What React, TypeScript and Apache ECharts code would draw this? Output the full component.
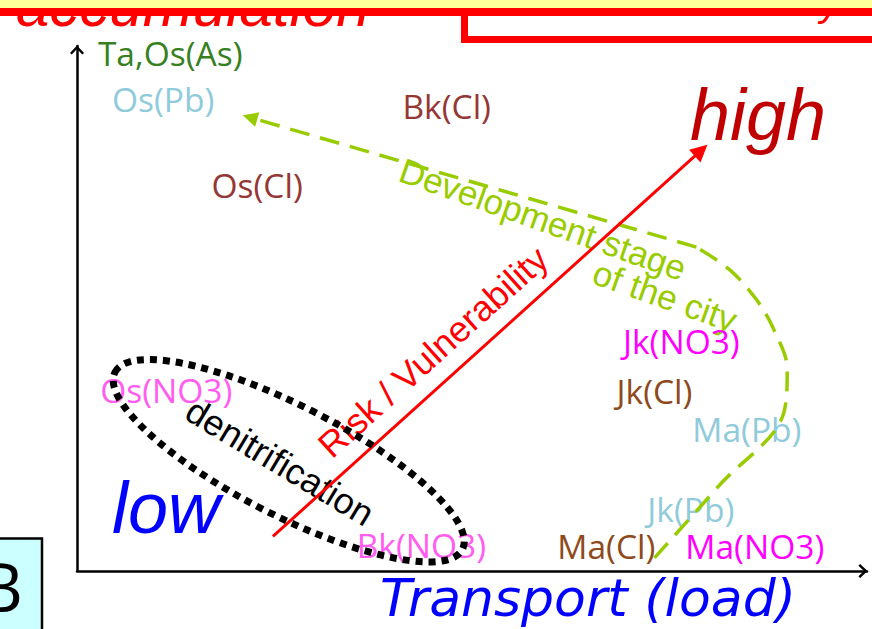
import React, { useEffect, useRef } from 'react';
import * as echarts from 'echarts';

// Samples (site + pollutant) placed by transport (x) and accumulation (y), 0-100 concept scale
const sampleNames = ['Ta,Os(As)', 'Os(Pb)', 'Bk(Cl)', 'Os(Cl)', 'Jk(NO3)', 'Jk(Cl)', 'Ma(Pb)', 'Os(NO3)', 'Jk(Pb)', 'Bk(NO3)', 'Ma(Cl)', 'Ma(NO3)'];
const transportX = [11.8, 10.9, 46.8, 22.8, 76.5, 73.1, 84.8, 11.3, 77.7, 43.6, 67.0, 85.8];
const accumulationY = [98.7, 90.0, 88.6, 73.5, 43.9, 34.3, 27.1, 34.5, 11.9, 4.9, 4.7, 4.7];

// Risk / Vulnerability arrow
const riskArrowStart = [24.8, 6.6];
const riskArrowEnd = [79.0, 80.1];

// Development stage of the city (curved dashed path, then straight arrow)
const devCurveX = [73.1, 81.3, 89.5, 89.9, 88.2, 86.0, 82.6, 78.4];
const devCurveY = [2.5, 16.3, 30.3, 38.4, 46.0, 51.7, 57.4, 61.7];
const devArrowEnd = [21.9, 86.4];

// denitrification group centre
const denitrificationCenter = [26.8, 21.0];

const labelColor: Record<string, string> = {
  'Ta,Os(As)': '#36801F',
  'Os(Pb)': '#8FCBDB',
  'Bk(Cl)': '#953735',
  'Os(Cl)': '#953735',
  'Jk(NO3)': '#FF00FF',
  'Jk(Cl)': '#8E4A1C',
  'Ma(Pb)': '#8FCBDB',
  'Os(NO3)': '#FF5CF0',
  'Jk(Pb)': '#8FCBDB',
  'Bk(NO3)': '#FF5CF0',
  'Ma(Cl)': '#8E4A1C',
  'Ma(NO3)': '#FF00FF',
};

const chevron = 'path://M7,0 L14,7.5 L12.3,9.2 L7,3.6 L1.7,9.2 L0,7.5 Z';
const deg = Math.PI / 180;

function txt(text: string, x: number, y: number, font: string, fill: string, rotation = 0, z = 1, align = 'center', vAlign = 'middle', lineHeight?: number) {
  const style: any = {
    text,
    font,
    fill,
    align,
    textAlign: align,
    verticalAlign: vAlign,
    textVerticalAlign: vAlign,
  };
  if (lineHeight) style.lineHeight = lineHeight;
  return { type: 'text', x, y, rotation, z, silent: true, style };
}

export default function App() {
  const ref = useRef<HTMLDivElement>(null);
  useEffect(() => {
    const chart = echarts.init(ref.current!, null, { renderer: 'svg' });
    const axisCommon = {
      type: 'value',
      min: 0,
      max: 100,
      axisTick: { show: false },
      axisLabel: { show: false },
      splitLine: { show: false },
      axisLine: {
        show: true,
        symbol: ['none', chevron],
        symbolSize: [14, 9.2],
        symbolOffset: [0, -4],
        lineStyle: { color: '#000', width: 2.5 },
      },
    };
    const option: any = {
      animation: false,
      backgroundColor: '#fff',
      grid: { left: 77, right: 5, top: 46, bottom: 56 },
      xAxis: {
        ...axisCommon,
        name: 'Transport (load)',
        nameLocation: 'middle',
        nameGap: 1,
        nameTextStyle: {
          fontFamily: 'DejaVu Sans',
          fontStyle: 'italic',
          fontSize: 52,
          color: '#0000FF',
          padding: [0, 0, 0, 232],
        },
      },
      yAxis: { ...axisCommon },
      series: [
        {
          type: 'scatter',
          z: 1,
          symbolSize: 1,
          itemStyle: { color: 'rgba(0,0,0,0)', opacity: 1 },
          label: {
            show: true,
            position: 'inside',
            formatter: '{b}',
            fontFamily: 'Open Sans',
            fontSize: 33.5,
            lineHeight: 34,
            opacity: 1,
          },
          data: sampleNames.map((n, i) => ({
            name: n,
            value: [transportX[i], accumulationY[i]],
            label: { color: labelColor[n] },
          })),
        },
        {
          type: 'line',
          z: 3,
          smooth: 0.35,
          symbol: 'none',
          lineStyle: { color: '#99CC00', width: 3.5, type: [20, 11] },
          data: devCurveX.map((x, i) => [x, devCurveY[i]]),
        },
        {
          type: 'lines',
          coordinateSystem: 'cartesian2d',
          z: 3,
          symbol: ['none', 'triangle'],
          symbolSize: 15,
          lineStyle: { color: '#99CC00', width: 3.5, type: [20, 11], opacity: 1 },
          data: [{ coords: [[devCurveX[devCurveX.length - 1], devCurveY[devCurveY.length - 1]], devArrowEnd] }],
        },
        {
          type: 'lines',
          coordinateSystem: 'cartesian2d',
          z: 4,
          symbol: ['none', 'triangle'],
          symbolSize: 17,
          lineStyle: { color: '#FF0000', width: 3, opacity: 1 },
          data: [{ coords: [riskArrowStart, riskArrowEnd] }],
        },
        {
          type: 'custom',
          z: 5,
          data: [denitrificationCenter],
          renderItem: (params: any, api: any) => {
            const p = api.coord([api.value(0), api.value(1)]);
            return {
              type: 'ellipse',
              x: p[0],
              y: p[1],
              rotation: -27 * deg,
              shape: { cx: 0, cy: 0, rx: 195, ry: 55 },
              style: { fill: 'none', stroke: '#000', lineWidth: 7, lineDash: [7, 6] },
            };
          },
        },
      ],
      graphic: [
        txt('accumulation', 16, 18, 'italic 60px "Liberation Sans"', '#FF0000', 0, 1, 'left', 'bottom', 26),
        {
          type: 'rect', z: 2, silent: true,
          shape: { x: 464.5, y: 0, width: 600, height: 39.5 },
          style: { fill: '#fff', stroke: '#FF0000', lineWidth: 7 },
        },
        txt('y', 830, 22, 'italic 40px "Liberation Sans"', '#FF0000', 0, 3, 'center', 'bottom'),
        { type: 'rect', z: 20, silent: true, shape: { x: 0, y: 0, width: 872, height: 8 }, style: { fill: '#FFFF99' } },
        { type: 'rect', z: 20, silent: true, shape: { x: 0, y: 8, width: 872, height: 8 }, style: { fill: '#FF0000' } },
        {
          type: 'rect', z: 20, silent: true,
          shape: { x: -10, y: 538.5, width: 52, height: 100 },
          style: { fill: '#CCFFFF', stroke: '#000', lineWidth: 2.5 },
        },
        txt('B', 23, 585, '68px "Open Sans"', '#000', 0, 21, 'right', 'middle'),
        txt('high', 758, 115, 'italic 72px "Liberation Sans"', '#C00000'),
        txt('low', 166, 508, 'italic 72px "Liberation Sans"', '#0000FF'),
        txt('Risk / Vulnerability', 433, 352, '36px "Liberation Sans"', '#FF0000', 42 * deg),
        txt('denitrification', 280, 462, '36px "Liberation Sans"', '#000', -31 * deg),
        txt('Development stage', 543, 219, '35px "Liberation Sans"', '#99CC00', -19.5 * deg),
        txt('of the city', 665, 296, '35px "Liberation Sans"', '#99CC00', -19.5 * deg),
      ],
    };
    chart.setOption(option);
    return () => chart.dispose();
  }, []);
  return <div ref={ref} style={{ position: 'fixed', left: 0, top: 0, width: 872, height: 629 }} />;
}
